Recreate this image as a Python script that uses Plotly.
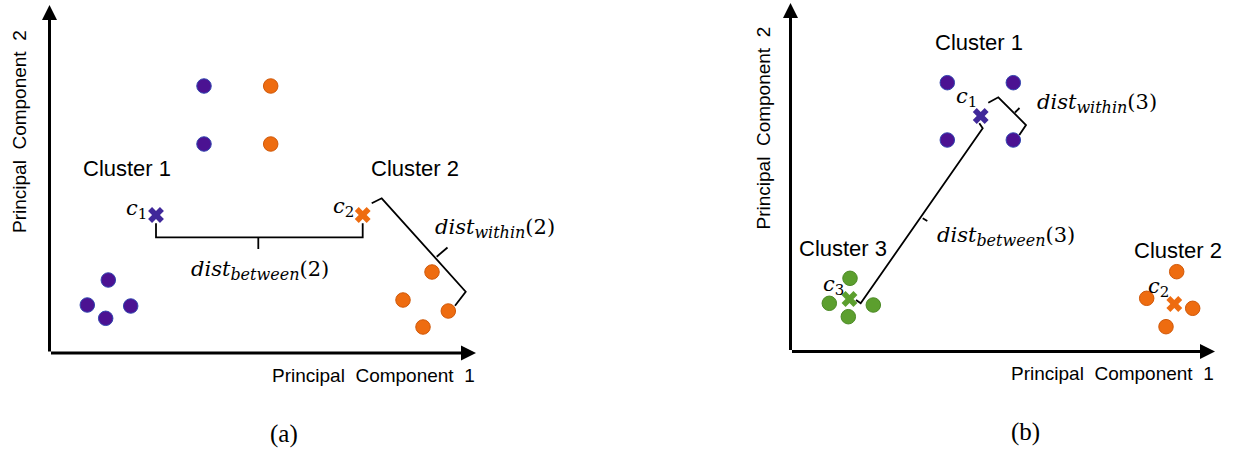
import plotly.graph_objects as go

# ---------------- data: panel (a), k = 2 ----------------
a_cl1_x = [15.45, 15.45, 5.88, 3.78, 8.12, 5.62]
a_cl1_y = [26.7, 20.9, 7.3, 4.8, 4.7, 3.47]
a_cl2_x = [22.12, 22.12, 38.25, 35.35, 39.88, 37.35]
a_cl2_y = [26.7, 20.9, 8.1, 5.3, 4.2, 2.6]
a_cent_x = [10.65, 31.32]
a_cent_y = [13.8, 13.8]
a_between_x = [10.65, 10.65, 31.32, 31.32, None, 20.88, 20.88]
a_between_y = [12.97, 11.57, 11.57, 12.97, None, 11.57, 10.4]
a_within_x = [32.22, 33.22, 41.62, 40.55, None, 38.72, 39.8]
a_within_y = [14.97, 15.47, 6.13, 4.73, None, 9.63, 10.55]

# ---------------- data: panel (b), k = 3 ----------------
b_cl1_x = [15.68, 22.28, 15.68, 22.28]
b_cl1_y = [26.88, 26.88, 21.15, 21.15]
b_cl2_x = [38.62, 35.62, 40.22, 37.55]
b_cl2_y = [7.98, 5.32, 4.32, 2.48]
b_cl3_x = [5.95, 3.88, 8.28, 5.78]
b_cl3_y = [7.32, 4.82, 4.65, 3.48]
b_cent_x = [19.02, 38.38, 5.9]
b_cent_y = [23.55, 4.75, 5.25]
b_between_x = [6.55, 7.02, 19.22, 18.88, None, 13.22, 13.68]
b_between_y = [5.15, 4.82, 22.32, 22.82, None, 13.32, 13.05]
b_within_x = [19.78, 20.78, 23.55, 22.88, None, 22.45, 22.9]
b_within_y = [24.88, 25.42, 22.65, 21.65, None, 23.9, 24.35]

axis_len_a = [42.65, 34.8]
axis_len_b = [42.45, 34.85]

PURPLE = "#4b1292"
PURPLE_EDGE = "#3346b0"
PURPLE_X = "#40289a"
ORANGE = "#ee6c10"
ORANGE_EDGE = "#d0590a"
GREEN = "#5c9f2e"
GREEN_EDGE = "#4c8a26"

fig = go.Figure()


def pts(x, y, fill, edge, xa, ya):
    fig.add_trace(go.Scatter(x=x, y=y, xaxis=xa, yaxis=ya, mode="markers",
                             marker=dict(size=14.5, color=fill, line=dict(color=edge, width=1)),
                             hoverinfo="skip"))


def cents(x, y, colors, xa, ya):
    fig.add_trace(go.Scatter(x=x, y=y, xaxis=xa, yaxis=ya, mode="markers",
                             marker=dict(size=14, symbol="x", color=colors, line=dict(width=0)),
                             hoverinfo="skip"))


def bracket(x, y, xa, ya):
    fig.add_trace(go.Scatter(x=x, y=y, xaxis=xa, yaxis=ya, mode="lines",
                             line=dict(color="black", width=1.8), hoverinfo="skip"))


# panel (a)
pts(a_cl1_x, a_cl1_y, PURPLE, PURPLE_EDGE, "x", "y")
pts(a_cl2_x, a_cl2_y, ORANGE, ORANGE_EDGE, "x", "y")
bracket(a_between_x, a_between_y, "x", "y")
bracket(a_within_x, a_within_y, "x", "y")
cents(a_cent_x, a_cent_y, [PURPLE_X, ORANGE], "x", "y")

# panel (b)
pts(b_cl1_x, b_cl1_y, PURPLE, PURPLE_EDGE, "x2", "y2")
pts(b_cl2_x, b_cl2_y, ORANGE, ORANGE_EDGE, "x2", "y2")
pts(b_cl3_x, b_cl3_y, GREEN, GREEN_EDGE, "x2", "y2")
bracket(b_between_x, b_between_y, "x2", "y2")
bracket(b_within_x, b_within_y, "x2", "y2")
cents(b_cent_x, b_cent_y, [PURPLE_X, ORANGE, GREEN], "x2", "y2")

SANS = "Liberation Sans, Arial, sans-serif"
MATH = "DejaVu Serif, serif"
SERIF = "Liberation Serif, Times New Roman, serif"

ann = []


def arrow(xr, yr, x, y):
    ann.append(dict(xref=xr, yref=yr, axref=xr, ayref=yr, x=x, y=y, ax=0, ay=0,
                    text="", showarrow=True, arrowhead=2, arrowsize=1.0,
                    arrowwidth=3, arrowcolor="black", standoff=0))


def label(xr, yr, x, y, text, size, font, angle=0, xanchor="center"):
    ann.append(dict(xref=xr, yref=yr, x=x, y=y, text=text, showarrow=False,
                    font=dict(size=size, family=font, color="black"),
                    textangle=angle, xanchor=xanchor, yanchor="middle"))


def it(s, px):
    return "<span style='font-style:italic;font-size:%dpx'>%s</span>" % (px, s)


def cname(k):
    return it("c", 21) + "<sub><span style='font-size:15px'>%s</span></sub>" % k


def dist(word, k):
    return it("dist", 21) + "<sub>" + it(word, 16) + "</sub>" + \
        "<span style='font-size:21px'>(%s)</span>" % k


# axes arrows
arrow("x", "y", axis_len_a[0], 0)
arrow("x", "y", 0, axis_len_a[1])
arrow("x2", "y2", axis_len_b[0], 0)
arrow("x2", "y2", 0, axis_len_b[1])

# axis titles
label("x", "y", 32.35, -2.2, "Principal  Component  1", 19, SANS)
label("x", "y", -3.05, 22.1, "Principal  Component  2", 19, SANS, angle=-90)
label("x2", "y2", 32.15, -2.15, "Principal  Component  1", 19, SANS)
label("x2", "y2", -2.8, 22.35, "Principal  Component  2", 19, SANS, angle=-90)

# cluster names
label("x", "y", 7.75, 18.45, "Cluster 1", 22, SANS)
label("x", "y", 36.55, 18.5, "Cluster 2", 22, SANS)
label("x2", "y2", 18.85, 30.95, "Cluster 1", 22, SANS)
label("x2", "y2", 5.25, 10.35, "Cluster 3", 22, SANS)
label("x2", "y2", 38.7, 10.15, "Cluster 2", 22, SANS)

# centroid names
label("x", "y", 8.72, 14.4, cname(1), 21, MATH)
label("x", "y", 29.4, 14.6, cname(2), 21, MATH)
label("x2", "y2", 17.62, 25.45, cname(1), 21, MATH)
label("x2", "y2", 36.78, 6.45, cname(2), 21, MATH)
label("x2", "y2", 4.28, 6.62, cname(3), 21, MATH)

# distance labels
label("x", "y", 21.05, 8.3, dist("between", 2), 21, MATH)
label("x", "y", 44.55, 12.5, dist("within", 2), 21, MATH)
label("x2", "y2", 21.53, 11.48, dist("between", 3), 21, MATH)
label("x2", "y2", 30.65, 24.85, dist("within", 3), 21, MATH)

# panel captions
label("x", "y", 23.4, -8.1, "(a)", 25, SERIF)
label("x2", "y2", 23.45, -8.0, "(b)", 25, SERIF)

fig.update_layout(
    width=1238, height=450,
    margin=dict(l=0, r=0, t=0, b=0),
    paper_bgcolor="white", plot_bgcolor="white",
    showlegend=False,
    xaxis=dict(domain=[0, 0.5], range=[-4.95, 56.95], visible=False),
    yaxis=dict(domain=[0, 1], range=[-9.7, 35.3], visible=False),
    xaxis2=dict(domain=[0.5, 1], range=[-17.15, 44.75], visible=False, anchor="y2"),
    yaxis2=dict(domain=[0, 1], range=[-9.85, 35.15], visible=False, anchor="x2"),
    annotations=ann,
)

fig.write_html("out.html", config={"displayModeBar": False},
               post_script="document.body.style.margin='0';document.body.style.overflow='hidden';")
